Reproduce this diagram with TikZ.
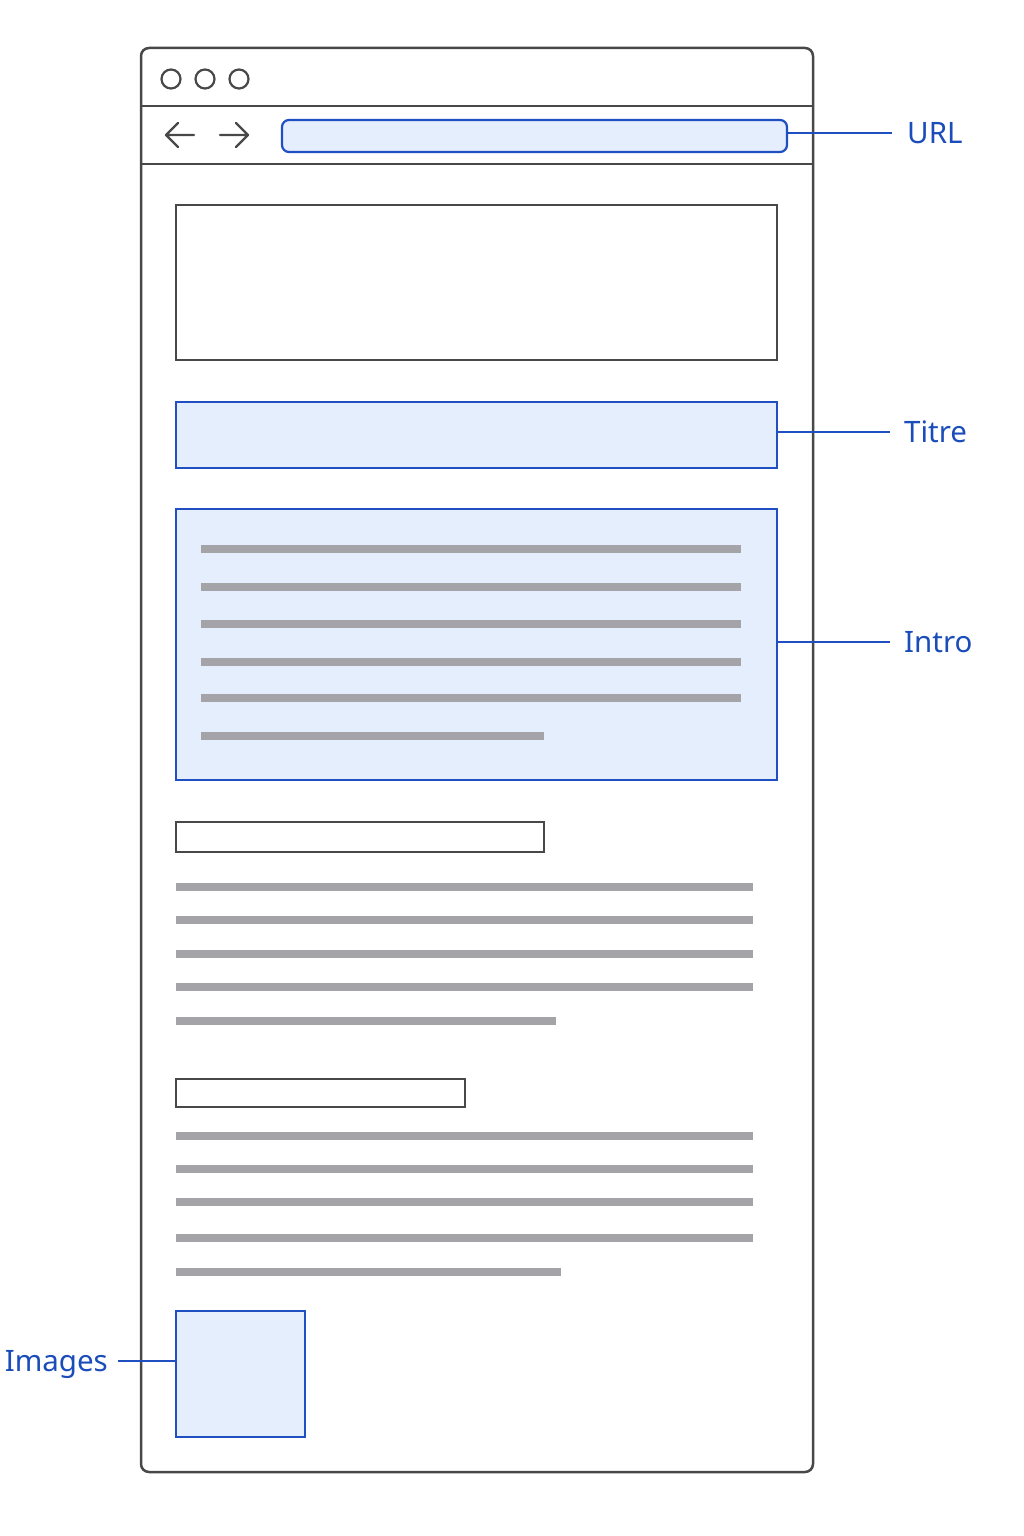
\documentclass[tikz,border=0pt]{standalone}
\usepackage{fontspec}
\setmainfont{Noto Sans}
\definecolor{framec}{HTML}{484848}
\definecolor{hlblue}{HTML}{1F4FC0}
\definecolor{hlfill}{HTML}{E5EEFD}
\definecolor{linegray}{HTML}{A4A4A8}
\definecolor{labc}{HTML}{1A4DBA}
\begin{document}
\begin{tikzpicture}[x=1pt,y=-1pt,
  box/.style={draw=framec,line width=2.5pt,fill=white,inner sep=0pt,outer sep=0pt,anchor=north west,rectangle},
  hl/.style={draw=hlblue,line width=2.2pt,fill=hlfill,inner sep=0pt,outer sep=0pt,anchor=north west,rectangle},
  dot/.style={circle,draw=framec,line width=2.2pt,minimum size=19pt,inner sep=0pt},
  chrome/.style={draw=framec,line width=2.4pt},
  txt/.style={draw=linegray,line width=7.5pt},
  conn/.style={draw=hlblue,line width=2.4pt},
  lab/.style={text=labc,font=\fontsize{29.5}{36}\selectfont,inner sep=0pt,text height=21pt,text depth=0pt}]
\useasboundingbox[fill=white] (0,0) rectangle (1024,1536);
% browser frame
\node[box,rounded corners=8pt,minimum width=672pt,minimum height=1424pt] (frame) at (141,48) {};
\draw[chrome] (141,106) -- (813,106);
\draw[chrome] (141,164) -- (813,164);
\node[dot] (c1) at (171,79) {};
\node[dot] (c2) at (205,79) {};
\node[dot] (c3) at (239,79) {};
% nav arrows
\draw[chrome,line cap=round,line join=round] (194,135) -- (166,135) (178,123) -- (166,135) -- (178,147);
\draw[chrome,line cap=round,line join=round] (220,135) -- (248,135) (236,123) -- (248,135) -- (236,147);
% url bar
\node[hl,rounded corners=7pt,minimum width=505pt,minimum height=32pt] (url) at (282,120) {};
% header box
\node[box,minimum width=601pt,minimum height=155pt] (header) at (176,205) {};
% title
\node[hl,minimum width=601pt,minimum height=66pt] (titre) at (176,402) {};
% intro
\node[hl,minimum width=601pt,minimum height=271pt] (intro) at (176,509) {};
\foreach \y in {549,587,624,662,698} \draw[txt] (201,\y) -- (741,\y);
\draw[txt] (201,736) -- (544,736);
% section 1
\node[box,minimum width=368pt,minimum height=30pt] (sub1) at (176,822) {};
\foreach \y in {887,920,954,987} \draw[txt] (176,\y) -- (753,\y);
\draw[txt] (176,1021) -- (556,1021);
% section 2
\node[box,minimum width=289pt,minimum height=28pt] (sub2) at (176,1079) {};
\foreach \y in {1136,1169,1202,1238} \draw[txt] (176,\y) -- (753,\y);
\draw[txt] (176,1272) -- (561,1272);
% image
\node[hl,minimum width=129pt,minimum height=126pt] (img) at (176,1311) {};
% labels
\node[lab,anchor=west] (urll) at (907,133) {URL};
\node[lab,anchor=west] (titrel) at (904,432) {Titre};
\node[lab,anchor=west] (introl) at (904,642) {Intro};
\node[lab,anchor=east] (imgl) at (108,1361) {Images};
% connectors
\draw[conn] (urll.west -| url.east) -- ([xshift=-15pt]urll.west);
\draw[conn] (titrel.west -| titre.east) -- ([xshift=-14pt]titrel.west);
\draw[conn] (introl.west -| intro.east) -- ([xshift=-14pt]introl.west);
\draw[conn] ([xshift=10pt]imgl.east) -- (imgl.east -| img.west);
\end{tikzpicture}
\end{document}
